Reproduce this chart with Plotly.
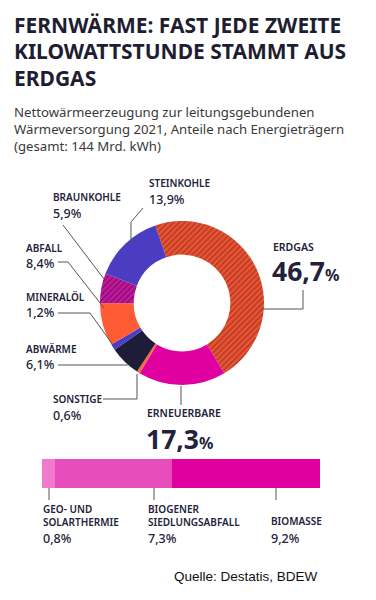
import plotly.graph_objects as go

W, H = 376, 600

# ---- data ----
categories = ["Erdgas", "Erneuerbare", "Sonstige", "Abwärme", "Mineralöl", "Abfall", "Braunkohle", "Steinkohle"]
shares = [46.7, 17.3, 0.6, 6.1, 1.2, 8.4, 5.9, 13.9]
share_labels = ["46,7", "17,3", "0,6", "6,1", "1,2", "8,4", "5,9", "13,9"]

renew_parts = ["Geo- und Solarthermie", "Biogener Siedlungsabfall", "Biomasse"]
renew_values = [0.8, 7.3, 9.2]
renew_labels = ["0,8", "7,3", "9,2"]

slice_colors = ["#EC5434", "#E000A0", "#F26A3E", "#1D1D3A", "#4B3EC6", "#FF5B34", "#C6179F", "#4A3DC2"]
pattern_shapes = ["/", "", "", "", "", "", "/", ""]
pattern_fg = ["#7A2416", "#E000A0", "#F26A3E", "#1D1D3A", "#4B3EC6", "#FF5B34", "#4E0846", "#4A3DC2"]
bar_colors = ["#F07ACC", "#E84DBE", "#E000A0"]

DARK = "#22223A"
LINE = "#555555"
FONT = "Noto Sans"


def px(x):
    return x / W


def py(y):
    return 1 - y / H


fig = go.Figure()

# donut: centre (182,303), radius 82
cx, cy, r = 182, 303, 82
fig.add_trace(go.Pie(
    labels=categories, values=shares, sort=False, direction="clockwise",
    rotation=-19, hole=0.59, textinfo="none", hoverinfo="label+percent",
    showlegend=False,
    marker=dict(colors=slice_colors, line=dict(width=0),
                pattern=dict(shape=pattern_shapes, fgcolor=pattern_fg,
                             fillmode="overlay", size=4, solidity=0.4)),
    domain=dict(x=[px(cx - r), px(cx + r)], y=[py(cy + r), py(cy - r)]),
))

# stacked bar for renewables
for name, v, c in zip(renew_parts, renew_values, bar_colors):
    fig.add_trace(go.Bar(x=[v], y=[0], orientation="h", name=name,
                         marker=dict(color=c, line=dict(width=0)), width=1,
                         xaxis="x", yaxis="y", showlegend=False, hoverinfo="name+x"))

fig.update_layout(
    width=W, height=H, margin=dict(l=0, r=0, t=0, b=0),
    paper_bgcolor="white", plot_bgcolor="white",
    barmode="stack", bargap=0,
    xaxis=dict(domain=[px(42), px(320)], range=[0, sum(renew_values)], visible=False, fixedrange=True),
    yaxis=dict(domain=[py(488), py(459)], range=[-0.5, 0.5], visible=False, fixedrange=True),
    font=dict(family=FONT, color=DARK),
)

ann = []


def text(x, y, s, size, weight=600, color=DARK, family=FONT, anchor="left", yanchor="middle"):
    ann.append(dict(x=px(x), y=py(y), xref="paper", yref="paper", text=s, showarrow=False,
                    xanchor=anchor, yanchor=yanchor, align="left",
                    font=dict(family=family, size=size, color=color, weight=weight)))


# title
for i, line in enumerate(["FERNWÄRME: FAST JEDE ZWEITE", "KILOWATTSTUNDE STAMMT AUS", "ERDGAS"]):
    text(12, 25 + i * 26.5, line, 21, weight=700, color="#1E1E30")
# subtitle
for i, line in enumerate(["Nettowärmeerzeugung zur leitungsgebundenen",
                          "Wärmeversorgung 2021, Anteile nach Energieträgern",
                          "(gesamt: 144 Mrd. kWh)"]):
    text(12, 112 + i * 17, line, 13.2, weight=400, color="#3A3A3A")

# small labels (name, pct) positions
small = {
    "Steinkohle": (147, 184, "STEINKOHLE"),
    "Braunkohle": (51, 198, "BRAUNKOHLE"),
    "Abfall": (24, 249, "ABFALL"),
    "Mineralöl": (24, 298, "MINERALÖL"),
    "Abwärme": (24, 350, "ABWÄRME"),
    "Sonstige": (51, 400, "SONSTIGE"),
}
for cat, (x, y, name) in small.items():
    i = categories.index(cat)
    text(x, y - 1, name, 10)
    text(x, y + 15, share_labels[i] + "%", 12.5, weight=500)

# big labels
i = categories.index("Erdgas")
text(271, 247, "ERDGAS", 10.5)
text(270, 271, f"<b>{share_labels[i]}</b><span style='font-size:16px'>%</span>", 26.5, weight=700)
i = categories.index("Erneuerbare")
text(145, 413, "ERNEUERBARE", 10.5)
text(144, 439, f"<b>{share_labels[i]}</b><span style='font-size:16px'>%</span>", 26.5, weight=700)

# bar labels
text(41, 515, "GEO- UND<br>SOLARTHERMIE", 10)
text(41, 538, renew_labels[0] + "%", 12.5, weight=500)
text(146, 515, "BIOGENER<br>SIEDLUNGSABFALL", 10)
text(146, 538, renew_labels[1] + "%", 12.5, weight=500)
text(269, 521, "BIOMASSE", 10)
text(269, 538, renew_labels[2] + "%", 12.5, weight=500)

# source
text(320, 576, "Quelle: Destatis, BDEW", 13.5, weight=400, color="#111111",
     family="Liberation Sans", anchor="right")

fig.update_layout(annotations=ann)

# leader lines
leaders = [
    [(143, 208), (131, 222), (131, 243)],
    [(63, 225), (104, 279)],
    [(58, 262), (68, 262), (104, 308)],
    [(58, 313), (90, 313), (113, 345)],
    [(58, 365), (128, 365)],
    [(103, 399), (137, 399), (137, 374)],
    [(181, 386), (181, 405)],
    [(262, 309), (303, 309), (303, 290)],
    [(49, 488), (49, 500)],
    [(154, 488), (154, 500)],
    [(276, 488), (276, 500)],
]
shapes = []
for pts in leaders:
    path = "M " + " L ".join(f"{px(x):.5f},{py(y):.5f}" for x, y in pts)
    shapes.append(dict(type="path", path=path, xref="paper", yref="paper",
                       line=dict(color=LINE, width=1)))
fig.update_layout(shapes=shapes)

fig.write_html("out.html", config={"displayModeBar": False},
               post_script="document.body.style.margin='0';document.body.style.overflow='hidden';")
